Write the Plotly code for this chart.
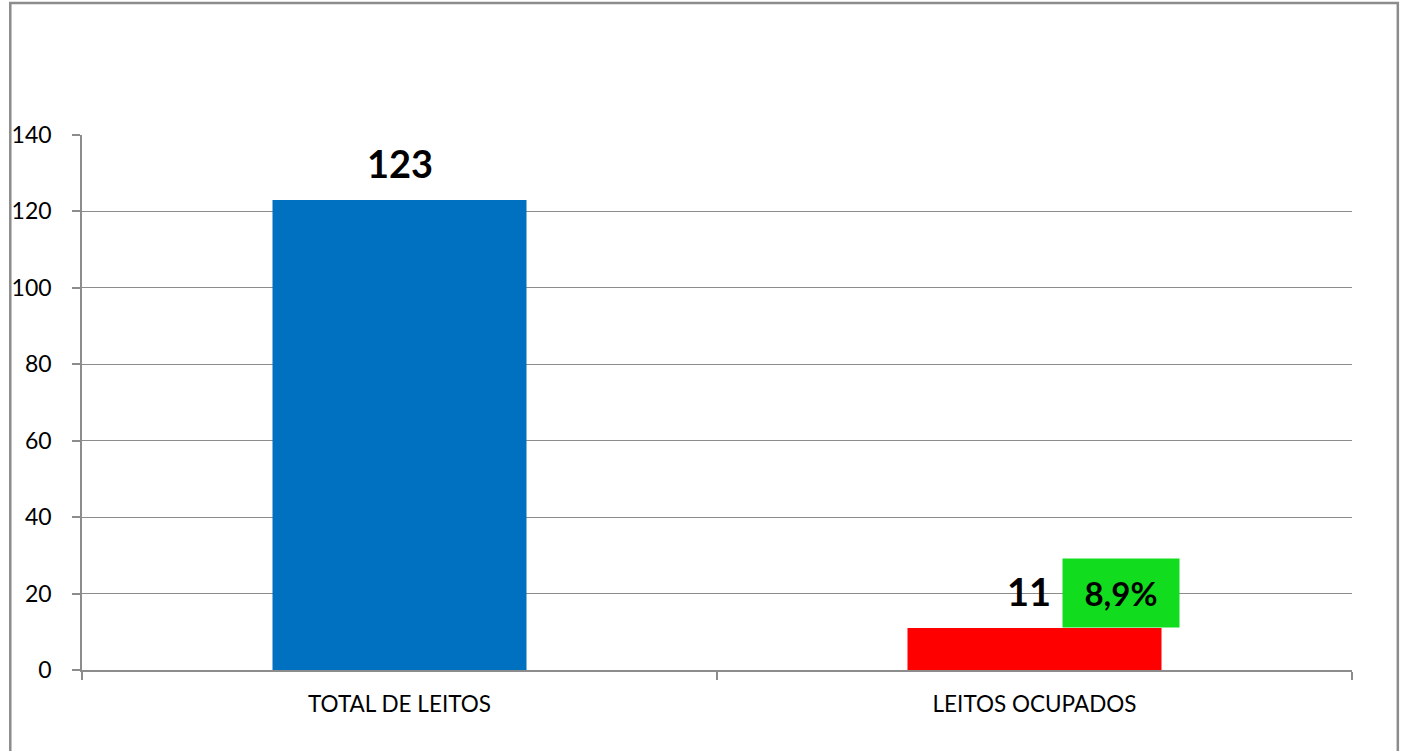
import plotly.graph_objects as go

categories = ["TOTAL DE LEITOS", "LEITOS OCUPADOS"]
values = [123, 11]
bar_colors = ["#0070C0", "#FF0000"]
pct_label = "8,9%"
y_ticks = [0, 20, 40, 60, 80, 100, 120, 140]

W, H = 1402, 751
ML, MR, MT, MB = 77, 50, 135, 81
pw, ph = W - ML - MR, H - MT - MB

fig = go.Figure()
fig.add_trace(go.Bar(
    x=categories, y=values, marker=dict(color=bar_colors, line=dict(width=0)),
    width=0.4, hoverinfo="x+y",
))

for c, v in zip(categories, values):
    fig.add_annotation(x=c, y=v, text=f"<b>{v}</b>", showarrow=False,
                       yanchor="bottom", yshift=12, xshift=-6 if v == values[1] else 0,
                       font=dict(family="Lato", size=38, color="black"))

fig.add_annotation(x=categories[1], y=values[1], text=f"<b>{pct_label}</b>",
                   showarrow=False, yanchor="bottom", xanchor="center", xshift=86,
                   width=116, height=68, bgcolor="#11DD1E", borderpad=0,
                   font=dict(family="Lato", size=33, color="black"))

# outer border
fig.add_shape(type="rect", xref="paper", yref="paper",
              x0=(5 - ML) / pw, x1=(1398 - ML) / pw,
              y0=(H - MB - 800) / ph, y1=(H - MB - 3) / ph,
              line=dict(color="#8C8C8C", width=2.5), fillcolor="rgba(0,0,0,0)", layer="below")

fig.update_layout(
    width=W, height=H, margin=dict(l=ML, r=MR, t=MT, b=MB),
    paper_bgcolor="white", plot_bgcolor="white", showlegend=False,
    font=dict(family="Lato", color="black"),
    xaxis=dict(showline=True, linecolor="#8C8C8C", linewidth=1.5,
               ticks="outside", ticklen=8, tickcolor="#8C8C8C", tickwidth=1.5,
               tickson="boundaries", tickfont=dict(size=22.5), ticklabelstandoff=13),
    yaxis=dict(range=[0, 140], tickvals=y_ticks, showline=True, linecolor="#8C8C8C",
               linewidth=1.5, ticks="outside", ticklen=8, tickcolor="#8C8C8C", tickwidth=1.5,
               showgrid=True, gridcolor="#8C8C8C", gridwidth=1.2, zeroline=False,
               tickfont=dict(size=23), ticklabelstandoff=16),
)

fig.write_html("out.html", config={"displayModeBar": False},
               post_script="document.body.style.margin='0';document.body.style.overflow='hidden';")
